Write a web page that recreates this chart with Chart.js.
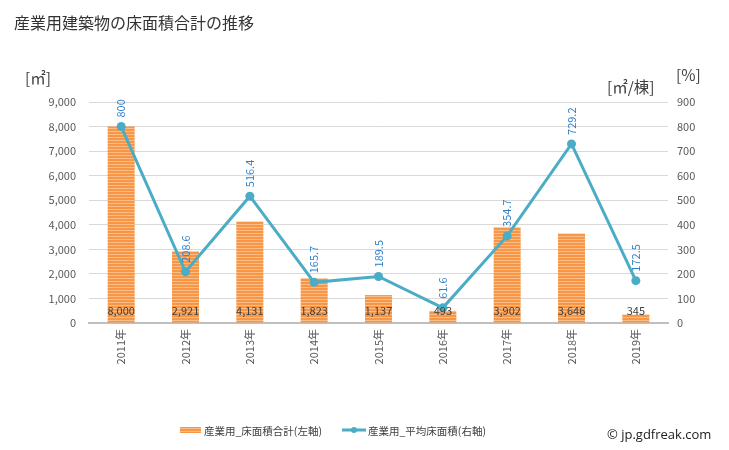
<!DOCTYPE html>
<html>
<head>
<meta charset="utf-8">
<script src="https://cdn.jsdelivr.net/npm/chart.js@4.4.1/dist/chart.umd.min.js"></script>
<style>
html,body{margin:0;padding:0;background:#fff;}
#wrap{width:729px;height:450px;position:relative;}
</style>
</head>
<body>
<div id="wrap"><canvas id="c" width="729" height="450"></canvas></div>
<script>
const categories = ["2011年","2012年","2013年","2014年","2015年","2016年","2017年","2018年","2019年"];
const floorAreaTotal = [8000, 2921, 4131, 1823, 1137, 493, 3902, 3646, 345];
const avgFloorArea = [800, 208.6, 516.4, 165.7, 189.5, 61.6, 354.7, 729.2, 172.5];
const leftTicks = [0,1000,2000,3000,4000,5000,6000,7000,8000,9000];
const rightTicks = [0,100,200,300,400,500,600,700,800,900];
const seriesNames = ["産業用_床面積合計(左軸)", "産業用_平均床面積(右軸)"];
const titleText = "産業用建築物の床面積合計の推移";

const FONT = '"Noto Sans CJK JP", "Noto Sans", sans-serif';
const ORANGE = '#f79646';
const ORANGE_LIGHT = '#fbbd86';
const LINE = '#4bacc6';
const LABEL_BLUE = '#2f7fc8';

function makePattern(){
  const p = document.createElement('canvas');
  p.width = 4; p.height = 3;
  const g = p.getContext('2d');
  g.fillStyle = ORANGE_LIGHT; g.fillRect(0,0,4,3);
  g.fillStyle = ORANGE; g.fillRect(0,0,4,2);
  return document.getElementById('c').getContext('2d').createPattern(p,'repeat');
}
const pattern = makePattern();

const fmt = v => v.toLocaleString('en-US');

const extras = {
  id:'extras',
  afterDatasetsDraw(chart){
    const ctx = chart.ctx;
    ctx.save();
    const m0 = chart.getDatasetMeta(0);
    ctx.font = '11px ' + FONT;
    ctx.fillStyle = '#404040';
    ctx.textAlign = 'center';
    ctx.textBaseline = 'middle';
    const bottom = chart.chartArea.bottom;
    m0.data.forEach((el,i)=>{
      ctx.fillText(fmt(floorAreaTotal[i]), el.x, bottom - 12);
    });
    const m1 = chart.getDatasetMeta(1);
    ctx.fillStyle = LABEL_BLUE;
    m1.data.forEach((el,i)=>{
      ctx.save();
      ctx.translate(el.x, el.y - 9);
      ctx.rotate(-Math.PI/2);
      ctx.textAlign = 'left';
      ctx.textBaseline = 'middle';
      ctx.fillText(String(avgFloorArea[i]), 0, 0);
      ctx.restore();
    });
    ctx.restore();
  },
  afterDraw(chart){
    const ctx = chart.ctx;
    ctx.save();
    ctx.fillStyle = '#333';
    ctx.font = '16px ' + FONT;
    ctx.textAlign = 'left';
    ctx.textBaseline = 'middle';
    ctx.fillText(titleText, 14, 23);
    ctx.font = '15.5px ' + FONT;
    ctx.fillStyle = '#404040';
    ctx.fillText('[㎡]', 25, 78);
    ctx.fillText('[㎡/棟]', 607, 87);
    ctx.fillText('[%]', 676, 75);
    // legend
    ctx.font = '10.5px ' + FONT;
    ctx.fillStyle = pattern;
    ctx.fillRect(180, 427, 21, 6);
    ctx.fillStyle = '#404040';
    ctx.fillText(seriesNames[0], 204, 431);
    ctx.strokeStyle = LINE; ctx.lineWidth = 3;
    ctx.beginPath(); ctx.moveTo(342,430); ctx.lineTo(366,430); ctx.stroke();
    ctx.fillStyle = LINE;
    ctx.beginPath(); ctx.arc(354,430,3,0,Math.PI*2); ctx.fill();
    ctx.fillStyle = '#404040';
    ctx.fillText(seriesNames[1], 368, 431);
    ctx.font = '13px "Open Sans", ' + FONT;
    ctx.fillStyle = '#222';
    ctx.fillText('© jp.gdfreak.com', 607, 435);
    ctx.restore();
  }
};

new Chart(document.getElementById('c'), {
  data:{
    labels: categories,
    datasets:[
      {type:'bar', label:seriesNames[0], data:floorAreaTotal, backgroundColor:pattern, yAxisID:'y', barPercentage:0.42, categoryPercentage:1.0, order:2},
      {type:'line', label:seriesNames[1], data:avgFloorArea, borderColor:LINE, backgroundColor:LINE, borderWidth:3, pointRadius:4.5, pointBackgroundColor:LINE, pointBorderWidth:0, yAxisID:'y1', tension:0, order:1}
    ]
  },
  options:{
    responsive:false,
    animation:false,
    devicePixelRatio:1,
    layout:{padding:{top:102, left:0, right:0, bottom:0}},
    plugins:{legend:{display:false}, tooltip:{enabled:false}, title:{display:false}},
    scales:{
      x:{
        grid:{display:false, drawTicks:false},
        border:{color:'#bfbfbf', width:2},
        ticks:{color:'#595959', font:{size:11, family:FONT}, minRotation:90, maxRotation:90, padding:6},
        afterFit(s){ s.height = 127; }
      },
      y:{
        position:'left', min:0, max:9000,
        afterBuildTicks(s){ s.ticks = leftTicks.map(v=>({value:v})); },
        grid:{color:'#d9d9d9', drawTicks:false},
        border:{display:false},
        ticks:{color:'#595959', font:{size:11, family:FONT}, padding:13, callback:v=>fmt(v)},
        afterFit(s){ s.width = 89; }
      },
      y1:{
        position:'right', min:0, max:900,
        afterBuildTicks(s){ s.ticks = rightTicks.map(v=>({value:v})); },
        grid:{display:false, drawTicks:false},
        border:{display:false},
        ticks:{color:'#595959', font:{size:11, family:FONT}, padding:9},
        afterFit(s){ s.width = 61; }
      }
    }
  },
  plugins:[extras]
});
</script>
</body>
</html>
